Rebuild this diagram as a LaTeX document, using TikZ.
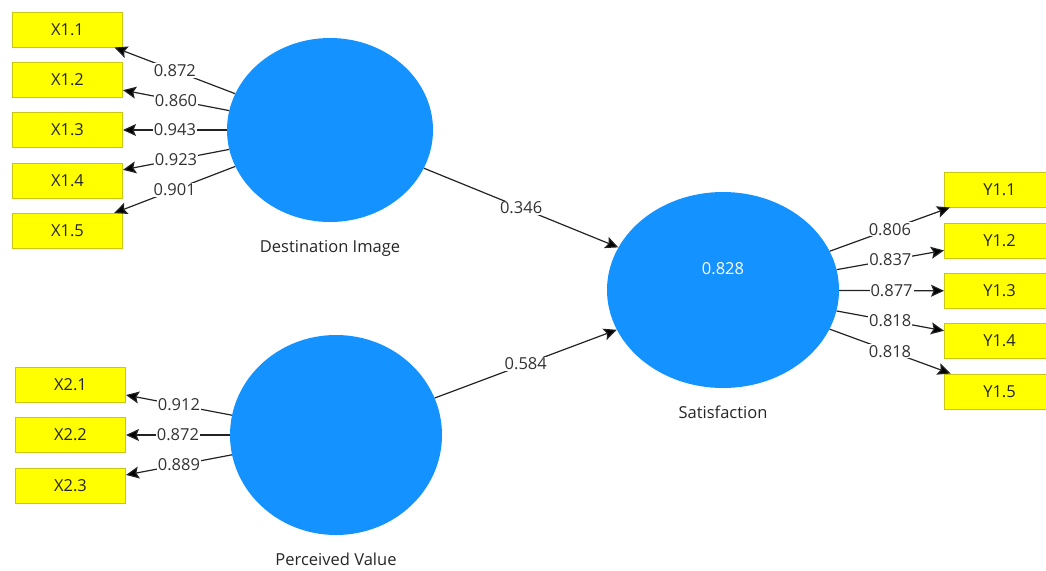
\documentclass[tikz,border=0pt]{standalone}
\usepackage{fontspec}
\setmainfont{Open Sans}
\usetikzlibrary{arrows.meta,shapes.geometric}
\definecolor{lvblue}{RGB}{20,146,255}
\definecolor{mvyellow}{RGB}{255,255,0}
\definecolor{mvborder}{RGB}{200,200,20}
\definecolor{pathgray}{RGB}{35,35,35}
\tikzset{
  latent/.style={ellipse, fill=lvblue, inner sep=0pt},
  manifest/.style={rectangle, fill=mvyellow, draw=mvborder, line width=1pt,
    minimum width=110pt, minimum height=35pt, inner sep=0pt, text=black!85},
  loading/.style={draw=pathgray, line width=1.2pt,
    -{Stealth[length=13pt,width=12pt,inset=2.5pt,fill=black]}},
  coef/.style={fill=white, inner sep=1pt, text=black!80, pos=0.5}
}

\begin{document}
\begin{tikzpicture}[x=1pt,y=-1pt,font=\fontsize{16.5}{19}\selectfont]
    \clip (0,0) rectangle (1046,570);

    % Latent variables
    \node[latent, minimum width=206pt, minimum height=184pt,
      label={[label distance=15pt,text=black!85]below:Destination Image}] (dest) at (330,130) {};
    \node[latent, minimum width=212pt, minimum height=200pt,
      label={[label distance=14pt,text=black!85]below:Perceived Value}] (perc) at (336,435) {};
    \node[latent, minimum width=232pt, minimum height=196pt,
      label={[label distance=14pt,text=black!85]below:Satisfaction},
      label={[text=white,yshift=21pt]center:0.828}] (sat) at (723,290) {};

    % Indicators
    \foreach \i/\y in {1/29.5,2/79.5,3/130,4/180.5,5/231}
      \node[manifest] (x1\i) at (67.5,\y) {X1.\i};
    \foreach \i/\y in {1/384.5,2/435,3/485.5}
      \node[manifest] (x2\i) at (70.5,\y) {X2.\i};
    \foreach \i/\y in {1/189.5,2/240.5,3/291,4/341,5/391.5}
      \node[manifest] (y1\i) at (999.5,\y) {Y1.\i};

    % Outer loadings
    \foreach \i/\v in {1/0.872,2/0.860,3/0.943,4/0.923,5/0.901}
      \draw[loading] (dest) -- node[coef] {\v} (x1\i);
    \foreach \i/\v in {1/0.912,2/0.872,3/0.889}
      \draw[loading] (perc) -- node[coef] {\v} (x2\i);
    \foreach \i/\v in {1/0.806,2/0.837,3/0.877,4/0.818,5/0.818}
      \draw[loading] (sat) -- node[coef] {\v} (y1\i);

    % Path coefficients
    \draw[loading] (dest) -- node[coef] {0.346} (sat);
    \draw[loading] (perc) -- node[coef] {0.584} (sat);
\end{tikzpicture}
\end{document}
